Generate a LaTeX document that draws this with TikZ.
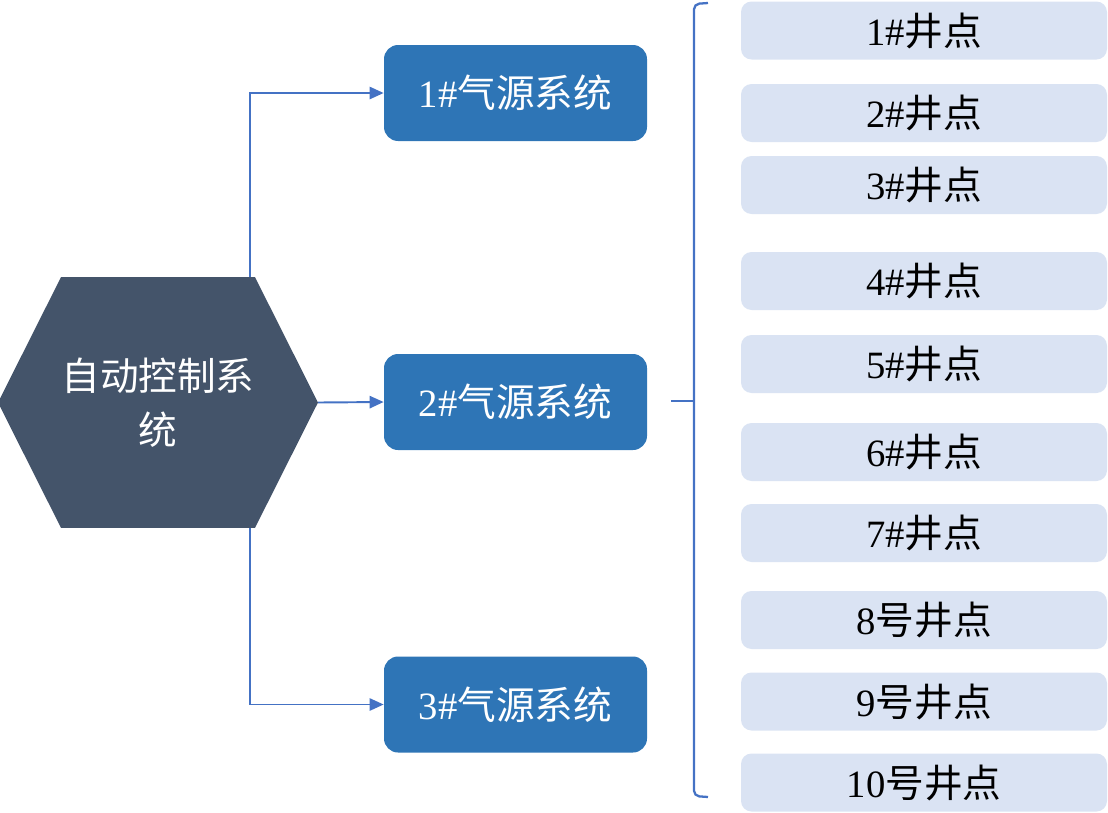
\documentclass[tikz,border=0pt]{standalone}
\usepackage{fontspec}
\setmainfont{Liberation Serif}
\newfontfamily\cjk{Noto Sans CJK SC}
\usetikzlibrary{arrows.meta, backgrounds, calc}
\definecolor{clrCtrl}{HTML}{44546A}
\definecolor{clrSrc}{HTML}{2E75B6}
\definecolor{clrWell}{HTML}{DAE3F3}
\definecolor{clrLink}{HTML}{4472C4}

\begin{document}
\begin{tikzpicture}[
    ctrl/.style={rectangle, minimum width=3.8cm, minimum height=5cm, align=center, text=white, font=\cjk\fontsize{22}{31}\selectfont, inner sep=0pt},
    source/.style={rectangle, fill=clrSrc, minimum width=5.26cm, minimum height=1.92cm, rounded corners=8pt, align=center, text=white, font=\fontsize{22}{26}\selectfont},
    well/.style={rectangle, fill=clrWell, minimum width=7.32cm, minimum height=1.16cm, rounded corners=6pt, align=center, font=\fontsize{22}{26}\selectfont},
    link/.style={-{Triangle[length=8pt, width=7pt]}, line width=1.1pt, clrLink},
    bracket/.style={line width=1.3pt, clrLink, rounded corners=3pt},
]
\useasboundingbox (0,0) rectangle (22.16,-16.24);

% === Control unit (hexagon) ===
\node[ctrl] (ctrl) at (3.16, -8.05) {自动控制系\\统};
\coordinate (ctrltip) at ([xshift=1.26cm]ctrl.east);
\coordinate (ctrlback) at ([xshift=-1.26cm]ctrl.west);
\begin{scope}[on background layer]
\fill[clrCtrl] (ctrl.north west) -- (ctrl.north east) -- (ctrltip)
    -- (ctrl.south east) -- (ctrl.south west) -- (ctrlback) -- cycle;
\end{scope}

% === Gas source systems ===
\node[source] (src1) at (10.31, -1.86) {1\#{\cjk 气源系统}};
\node[source] (src2) at (10.31, -8.04) {2\#{\cjk 气源系统}};
\node[source] (src3) at (10.31, -14.09) {3\#{\cjk 气源系统}};

% === Links ===
\draw[link] ([xshift=-1mm]ctrl.north east) |- (src1.west);
\draw[link] (ctrltip) -- (src2.west);
\draw[link] ([xshift=-1mm]ctrl.south east) |- (src3.west);

% === Wells ===
\node[well] (w1) at (18.48, -0.61) {1\#{\cjk 井点}};
\node[well] (w2) at (18.48, -2.26) {2\#{\cjk 井点}};
\node[well] (w3) at (18.48, -3.70) {3\#{\cjk 井点}};
\node[well] (w4) at (18.48, -5.62) {4\#{\cjk 井点}};
\node[well] (w5) at (18.48, -7.28) {5\#{\cjk 井点}};
\node[well] (w6) at (18.48, -9.04) {6\#{\cjk 井点}};
\node[well] (w7) at (18.48, -10.66) {7\#{\cjk 井点}};
\node[well] (w8) at (18.48, -12.40) {8{\cjk 号井点}};
\node[well] (w9) at (18.48, -14.03) {9{\cjk 号井点}};
\node[well] (w10) at (18.48, -15.65) {10{\cjk 号井点}};

% === Bracket ===
\coordinate (brtop) at (14.16, -0.06);
\coordinate (brbot) at (14.16, -15.94);
\coordinate (brtip) at (13.42, -8.02);
\draw[bracket] (brtop) -- (13.88, -0.08) -- (13.88, -15.92) -- (brbot);
\draw[bracket] (brtip) -- (13.88, -8.02);

\end{tikzpicture}
\end{document}
